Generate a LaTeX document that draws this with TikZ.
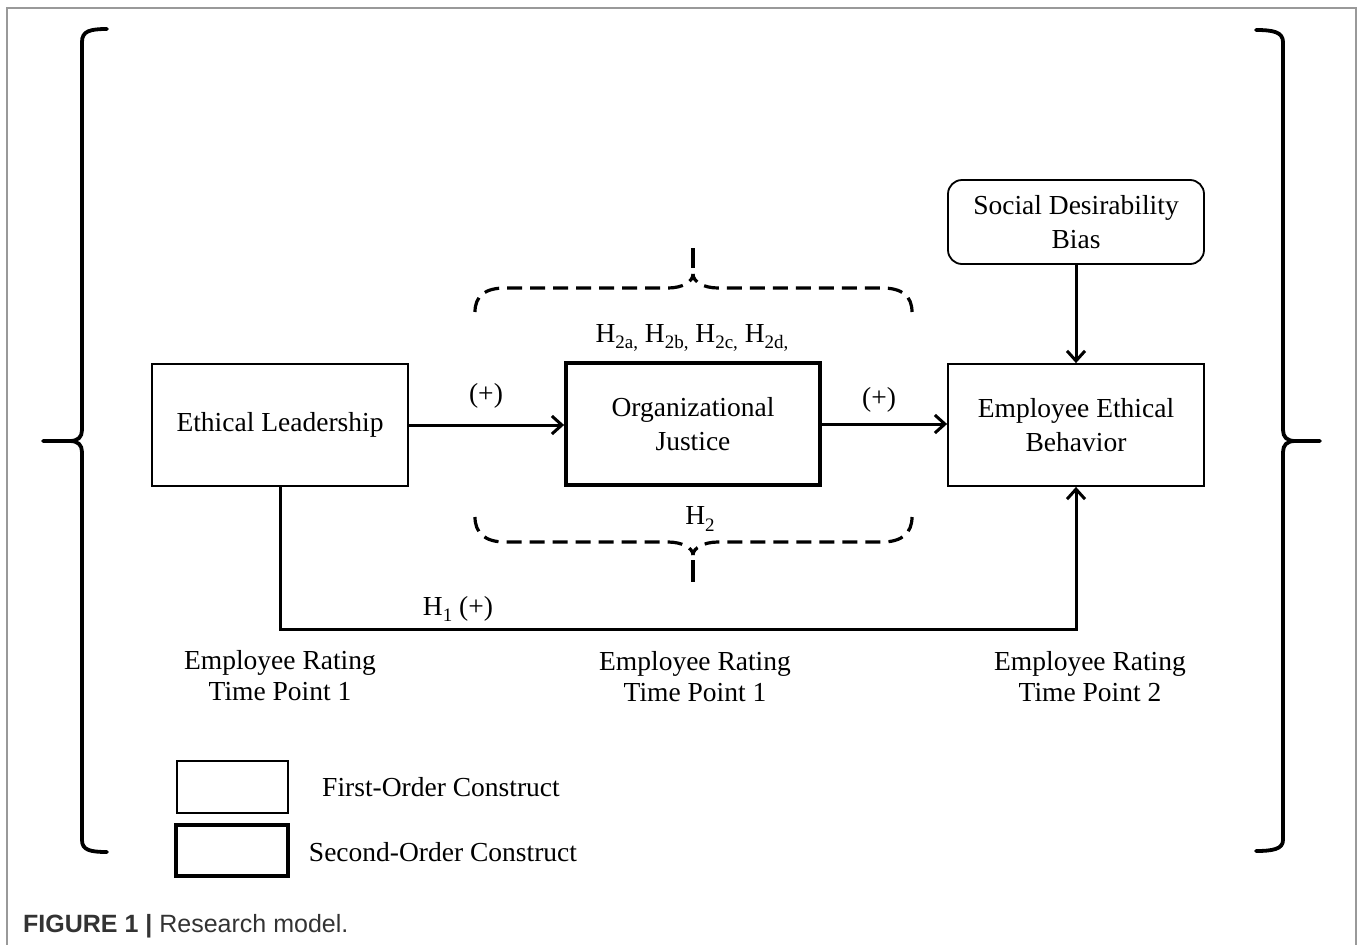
\documentclass[tikz,border=0pt]{standalone}
\usepackage{fontspec}
\setmainfont{Liberation Serif}
\newfontfamily\capfont{Liberation Sans}
\usetikzlibrary{arrows.meta}
\newcommand\sbs[1]{\raisebox{-0.25em}{\fontsize{19}{19}\selectfont #1}}
\begin{document}
\begin{tikzpicture}[x=1pt,y=-1pt,
  box/.style={draw, line width=1.8pt, minimum width=256pt, minimum height=122pt,
    inner sep=0pt, align=center, font=\fontsize{27.5}{34}\selectfont},
  thickbox/.style={box, line width=3.8pt, minimum width=254pt},
  lbl/.style={font=\fontsize{27.5}{31}\selectfont, align=center, inner sep=0pt},
  arr/.style={line width=3pt, -{Straight Barb[length=10pt,width=18pt,line width=3pt]}},
  brk/.style={line width=3.8pt, line cap=round},
  dbrace/.style={line width=3.2pt, dash pattern=on 15pt off 8pt},
  frame/.style={draw=gray!80, line width=1.6pt}]
\useasboundingbox (0,0) rectangle (1358,945);
\draw[frame] (7,945) -- (7,8) -- (1356,8) -- (1356,945);

% big brackets
\draw[brk] (107,29) .. controls (90,29) and (82,31) .. (82,42) -- (82,430)
  .. controls (82,437) and (78,441) .. (70,441) -- (43,441);
\draw[brk] (70,441) .. controls (78,441) and (82,445) .. (82,452) -- (82,840)
  .. controls (82,850) and (90,852) .. (107,852);
\draw[brk] (1256,30) .. controls (1273,30) and (1283,32) .. (1283,42) -- (1283,430)
  .. controls (1283,437) and (1287,441) .. (1295,441) -- (1320,441);
\draw[brk] (1295,441) .. controls (1287,441) and (1283,445) .. (1283,452) -- (1283,840)
  .. controls (1283,849) and (1273,851) .. (1256,851);

% nodes
\node[box] (EL) at (280,425) {Ethical Leadership};
\node[thickbox] (OJ) at (693,424) {Organizational\\Justice};
\node[box] (EEB) at (1076,425) {Employee Ethical\\Behavior};
\node[box, rounded corners=14pt, minimum height=84pt] (SDB) at (1076,222) {Social Desirability\\Bias};

% dashed braces (each half drawn from its outer end)
\draw[dbrace] (475,312) .. controls (475,296) and (485,288) .. (505,288) -- (668,288)
  .. controls (682,288) and (693,282) .. (693,274);
\draw[dbrace] (912,312) .. controls (912,296) and (902,288) .. (882,288) -- (718,288)
  .. controls (704,288) and (693,282) .. (693,274);
\draw[line width=3.2pt] (693,248) -- (693,268);
\draw[dbrace] (475,517) .. controls (475,533) and (485,542) .. (505,542) -- (668,542)
  .. controls (682,542) and (693,548) .. (693,555);
\draw[dbrace] (912,517) .. controls (912,533) and (902,542) .. (882,542) -- (718,542)
  .. controls (704,542) and (693,548) .. (693,555);
\draw[line width=3.2pt] (693,560) -- (693,582);

% connectors
\coordinate (h1) at (0,629);
\draw[arr] (EL.east) -- (EL.east -| OJ.west);
\draw[arr] (OJ.east) -- (OJ.east -| EEB.west);
\draw[arr] (SDB.south) -- (EEB.north);
\draw[arr] (EL.south) -- (EL.south |- h1) -| (EEB.south);

% labels
\node[lbl] (p1) at (486,396) {(+)};
\node[lbl] (p2) at (879,400) {(+)};
\node[lbl] (h1l) at (458,609) {H\sbs{1} (+)};
\node[lbl] (h2abcd) at (692,338) {H\sbs{2a,} H\sbs{2b,} H\sbs{2c,} H\sbs{2d,}};
\node[lbl] (h2) at (700,519) {H\sbs{2}};
\node[lbl] (r1) at (280,676) {Employee Rating\\Time Point 1};
\node[lbl] (r2) at (695,677) {Employee Rating\\Time Point 1};
\node[lbl] (r3) at (1090,677) {Employee Rating\\Time Point 2};

% legend
\node[draw, line width=1.8pt, minimum width=111pt, minimum height=52pt, inner sep=0pt] (L1) at (232.5,787) {};
\node[draw, line width=3.8pt, minimum width=112pt, minimum height=51pt, inner sep=0pt] (L2) at (232,850.5) {};
\node[lbl] (t1) at (441,787) {First-Order Construct};
\node[lbl] (t2) at (443,852) {Second-Order Construct};

% caption
\node[anchor=west, inner sep=0pt, text=black!80, font=\capfont\fontsize{25}{28}\selectfont] (cap) at (23,926)
  {\textbf{FIGURE 1 |} Research model.};
\end{tikzpicture}
\end{document}
